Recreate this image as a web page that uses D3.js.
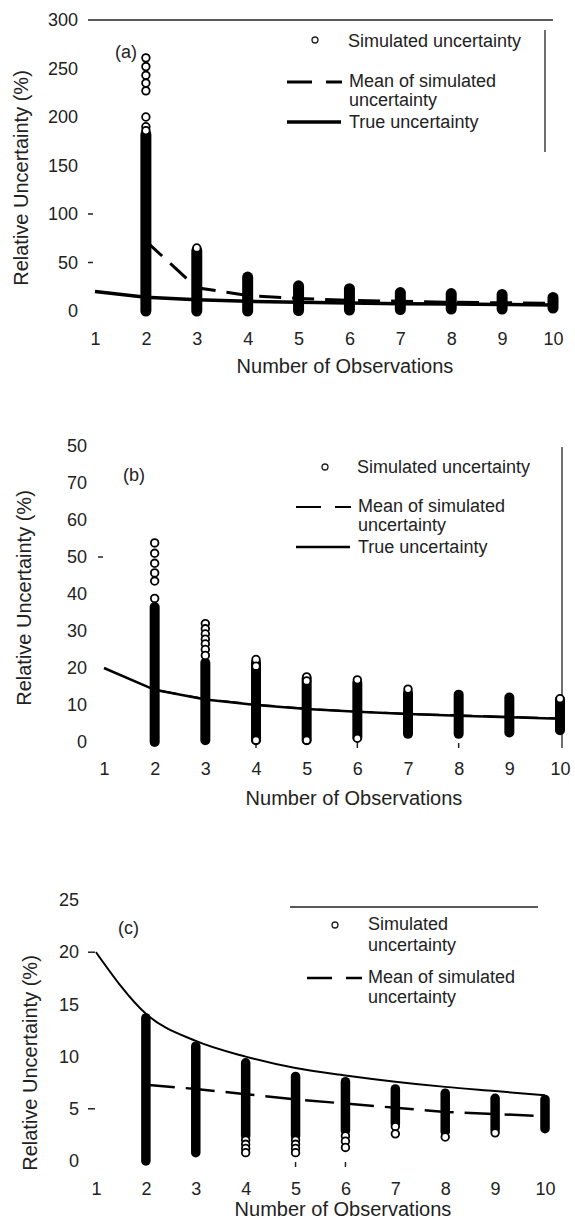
<!DOCTYPE html>
<html>
<head>
<meta charset="utf-8">
<script src="https://cdn.jsdelivr.net/npm/d3@7"></script>
<style>
  body { margin: 0; background: #fff; }
  text { font-family: "Liberation Sans", Arial, sans-serif; fill: #222; }
</style>
</head>
<body>
<div id="chart"></div>
<script>
// ---- data ----
var obs = [1, 2, 3, 4, 5, 6, 7, 8, 9, 10];
var simObs = [2, 3, 4, 5, 6, 7, 8, 9, 10];

// panel (a)
var yTicksA = [0, 50, 100, 150, 200, 250, 300];
var yLabelsA = ["0", "50", "100", "150", "200", "250", "300"];
var trueA = [20, 14.1, 11.5, 10, 8.9, 8.2, 7.6, 7.1, 6.7, 6.3];
var meanA = [72, 24, 16, 13, 11, 10, 9, 8.5, 8];
var lowA = [0, 0, 0, 0.5, 1, 1.5, 2, 2, 3];
var highA = [182, 62, 35, 26, 23, 19, 18, 17, 14];
var extraA = [[261, 252, 243, 235, 227, 200, 190, 186], [65], [], [], [], [], [], [], []];

// panel (b)
var yTicksB = [0, 10, 20, 30, 40, 50, 60, 70, 80];
var yLabelsB = ["0", "10", "20", "30", "40", "50", "60", "70", "50"];
var trueB = [20, 14.1, 11.5, 10, 8.9, 8.2, 7.6, 7.1, 6.7, 6.3];
var meanB = [14.1, 11.6, 10.1, 9.0, 8.2, 7.6, 7.2, 6.8, 6.4];
var lowB = [0, 0.5, 0.5, 0.5, 1.2, 2.2, 2.2, 2.6, 3.2];
var highB = [36.5, 21.4, 21.5, 17.2, 16, 13.3, 12.8, 12, 11.5];
var extraB = [[53.8, 51, 48.3, 45.7, 43.5, 38.8], [32, 30.6, 29.2, 27.8, 26.5, 25, 23.4],
              [22.3, 20.5, 0.5], [17.6, 16.5, 0.5], [16.8, 1], [14.3], [], [], [11.7]];

// panel (c)
var yTicksC = [0, 5, 10, 15, 20, 25];
var yLabelsC = ["0", "5", "10", "15", "20", "25"];
var trueC = [20, 14.1, 11.5, 10, 8.9, 8.2, 7.6, 7.1, 6.7, 6.3];
var meanC = [7.3, 6.9, 6.4, 5.9, 5.5, 5.1, 4.7, 4.5, 4.3];
var lowC = [0, 0.8, 2.4, 2.4, 2.9, 3.6, 2.8, 3.0, 3.1];
var highC = [13.7, 11, 9.4, 8.1, 7.6, 6.9, 6.5, 6.0, 5.9];
var extraC = [[], [], [2, 1.6, 1.2, 0.8], [2, 1.6, 1.2, 0.8], [2.4, 1.9, 1.3], [3.3, 2.6], [2.3], [2.7], []];

var legendSim = ["Simulated uncertainty"];
var legendSimC = ["Simulated", "uncertainty"];
var legendMean = ["Mean of simulated", "uncertainty"];
var legendTrue = ["True uncertainty"];

var svg = d3.select("#chart").append("svg")
  .attr("width", 575)
  .attr("height", 1219);

var panels = [
  { tag: "(a)", tagX: 115, tagY: 58,
    yTicks: yTicksA, yLabels: yLabelsA, yMax: 300, trueV: trueA, meanV: meanA,
    low: lowA, high: highA, extra: extraA,
    x1: 95, x10: 553, y0: 311, yTop: 20, labelRight: 78, xAxisY: 332,
    xTitleX: 345, xTitleY: 373, yTitleX: 28, yTitleY: 178,
    lineW: 3.5, meanW: 3, meanDash: "22,11", smooth: false, colW: 11,
    tickDash: [100, 50], tickDashX: [88, 93], stubs: [],
    topLine: [88, 553, 20], sideLine: [545, 30, 152], vLine: null,
    legend: { circle: [315, 40], sim: legendSim, simPos: [348, 47],
              dash: [287, 342, 82], mean: [349, 87, 106],
              solid: [287, 341, 122], truePos: [349, 128] } },
  { tag: "(b)", tagX: 123, tagY: 481,
    yTicks: yTicksB, yLabels: yLabelsB, yMax: 80, trueV: trueB, meanV: meanB,
    low: lowB, high: highB, extra: extraB,
    x1: 104, x10: 560, y0: 742, yTop: 446, labelRight: 87, xAxisY: 762,
    xTitleX: 354, xTitleY: 805, yTitleX: 31, yTitleY: 598,
    lineW: 2.5, meanW: 2, meanDash: "22,11", smooth: false, colW: 10,
    tickDash: [50], tickDashX: [98, 103], stubs: [4, 6, 8],
    topLine: null, sideLine: null, vLine: [562, 447, 748],
    legend: { circle: [325, 467], sim: legendSim, simPos: [357, 473],
              dash: [296, 351, 507], mean: [358, 512, 531],
              solid: [296, 350, 547], truePos: [358, 553] } },
  { tag: "(c)", tagX: 118, tagY: 934,
    yTicks: yTicksC, yLabels: yLabelsC, yMax: 25, trueV: trueC, meanV: meanC,
    low: lowC, high: highC, extra: extraC,
    x1: 96, x10: 545, y0: 1161, yTop: 900, labelRight: 79, xAxisY: 1182,
    xTitleX: 343, xTitleY: 1216, yTitleX: 37, yTitleY: 1063,
    lineW: 2, meanW: 2.5, meanDash: "29,11", smooth: true, colW: 9.5,
    tickDash: [20, 5], tickDashX: [88, 95], stubs: [5, 6],
    topLine: [290, 538, 907], sideLine: null, vLine: null,
    legend: { circle: [335, 925], sim: legendSimC, simPos: [368, 930, 951],
              dash: [307, 362, 978], mean: [368, 983, 1003],
              solid: null, truePos: null } }
];

panels.forEach(function(p) { drawPanel(p); });

function drawPanel(p) {
  var x = d3.scaleLinear().domain([1, 10]).range([p.x1, p.x10]);
  var y = d3.scaleLinear().domain([0, p.yMax]).range([p.y0, p.yTop]);
  var g = svg.append("g");

  // y axis labels only
  var ya = g.append("g")
    .attr("transform", "translate(" + p.labelRight + ",0)")
    .call(d3.axisLeft(y).tickValues(p.yTicks)
      .tickFormat(function(d, i) { return p.yLabels[i]; })
      .tickSize(0).tickPadding(0));
  ya.select(".domain").remove();
  ya.selectAll("text").attr("font-size", 18).attr("fill", "#222")
    .attr("font-family", "Liberation Sans, Arial, sans-serif");

  // the stray little tick marks
  g.selectAll(".tickdash").data(p.tickDash).enter().append("line")
    .attr("x1", p.tickDashX[0]).attr("x2", p.tickDashX[1])
    .attr("y1", function(d) { return y(d); })
    .attr("y2", function(d) { return y(d); })
    .attr("stroke", "#222").attr("stroke-width", 1.5);

  // x axis labels
  var xa = g.append("g")
    .attr("transform", "translate(0," + p.xAxisY + ")")
    .call(d3.axisBottom(x).tickValues(obs).tickFormat(d3.format("d"))
      .tickSize(0).tickPadding(0));
  xa.select(".domain").remove();
  xa.selectAll("text").attr("font-size", 18).attr("fill", "#222")
    .attr("font-family", "Liberation Sans, Arial, sans-serif");

  g.append("text")
    .attr("x", p.xTitleX).attr("y", p.xTitleY)
    .attr("text-anchor", "middle").attr("font-size", 20)
    .text("Number of Observations");

  g.append("text")
    .attr("transform", "translate(" + p.yTitleX + "," + p.yTitleY + ") rotate(-90)")
    .attr("text-anchor", "middle").attr("font-size", 20)
    .text("Relative Uncertainty (%)");

  g.append("text")
    .attr("x", p.tagX).attr("y", p.tagY)
    .attr("font-size", 18)
    .text(p.tag);

  // frame bits
  if (p.topLine) {
    g.append("line").attr("x1", p.topLine[0]).attr("x2", p.topLine[1])
      .attr("y1", p.topLine[2]).attr("y2", p.topLine[2])
      .attr("stroke", "#222").attr("stroke-width", 1.3);
  }
  if (p.sideLine) {
    g.append("line").attr("x1", p.sideLine[0]).attr("x2", p.sideLine[0])
      .attr("y1", p.sideLine[1]).attr("y2", p.sideLine[2])
      .attr("stroke", "#222").attr("stroke-width", 1.3);
  }
  if (p.vLine) {
    g.append("line").attr("x1", p.vLine[0]).attr("x2", p.vLine[0])
      .attr("y1", p.vLine[1]).attr("y2", p.vLine[2])
      .attr("stroke", "#222").attr("stroke-width", 1.3);
  }

  // small stubs under some columns
  g.selectAll(".stub").data(p.stubs).enter().append("line")
    .attr("x1", function(d) { return x(d); })
    .attr("x2", function(d) { return x(d); })
    .attr("y1", y(0) + 1).attr("y2", y(0) + 6)
    .attr("stroke", "#222").attr("stroke-width", 1.5);

  // dense columns of simulated points
  g.selectAll(".col").data(simObs).enter().append("line")
    .attr("x1", function(d) { return x(d); })
    .attr("x2", function(d) { return x(d); })
    .attr("y1", function(d, i) { return y(p.low[i]); })
    .attr("y2", function(d, i) { return y(p.high[i]); })
    .attr("stroke", "#000").attr("stroke-width", p.colW)
    .attr("stroke-linecap", "round");

  // separate simulated points
  var pts = [];
  simObs.forEach(function(n, i) {
    p.extra[i].forEach(function(v) { pts.push({ n: n, v: v }); });
  });
  g.selectAll(".pt").data(pts).enter().append("circle")
    .attr("cx", function(d) { return x(d.n); })
    .attr("cy", function(d) { return y(d.v); })
    .attr("r", 3.8)
    .attr("fill", "#fff").attr("stroke", "#000").attr("stroke-width", 1.8);

  // true uncertainty
  var lineTrue = d3.line()
    .x(function(d, i) { return x(obs[i]); })
    .y(function(d) { return y(d); });
  if (p.smooth) lineTrue.curve(d3.curveMonotoneX);
  g.append("path").datum(p.trueV)
    .attr("d", lineTrue)
    .attr("fill", "none").attr("stroke", "#000").attr("stroke-width", p.lineW);

  // mean of simulated
  var lineMean = d3.line()
    .x(function(d, i) { return x(simObs[i]); })
    .y(function(d) { return y(d); });
  g.append("path").datum(p.meanV)
    .attr("d", lineMean)
    .attr("fill", "none").attr("stroke", "#000").attr("stroke-width", p.meanW)
    .attr("stroke-dasharray", p.meanDash);

  // legend
  var L = p.legend;
  g.append("circle").attr("cx", L.circle[0]).attr("cy", L.circle[1]).attr("r", 3)
    .attr("fill", "#fff").attr("stroke", "#222").attr("stroke-width", 1.3);
  L.sim.forEach(function(t, i) {
    g.append("text").attr("x", L.simPos[0]).attr("y", L.simPos[1 + i])
      .attr("font-size", 18).text(t);
  });
  g.append("line").attr("x1", L.dash[0]).attr("x2", L.dash[1])
    .attr("y1", L.dash[2]).attr("y2", L.dash[2])
    .attr("stroke", "#000").attr("stroke-width", p.meanW)
    .attr("stroke-dasharray", "25,14");
  legendMean.forEach(function(t, i) {
    g.append("text").attr("x", L.mean[0]).attr("y", L.mean[1 + i])
      .attr("font-size", 18).text(t);
  });
  if (L.solid) {
    g.append("line").attr("x1", L.solid[0]).attr("x2", L.solid[1])
      .attr("y1", L.solid[2]).attr("y2", L.solid[2])
      .attr("stroke", "#000").attr("stroke-width", p.lineW);
    g.append("text").attr("x", L.truePos[0]).attr("y", L.truePos[1])
      .attr("font-size", 18).text(legendTrue[0]);
  }
}
</script>
</body>
</html>
